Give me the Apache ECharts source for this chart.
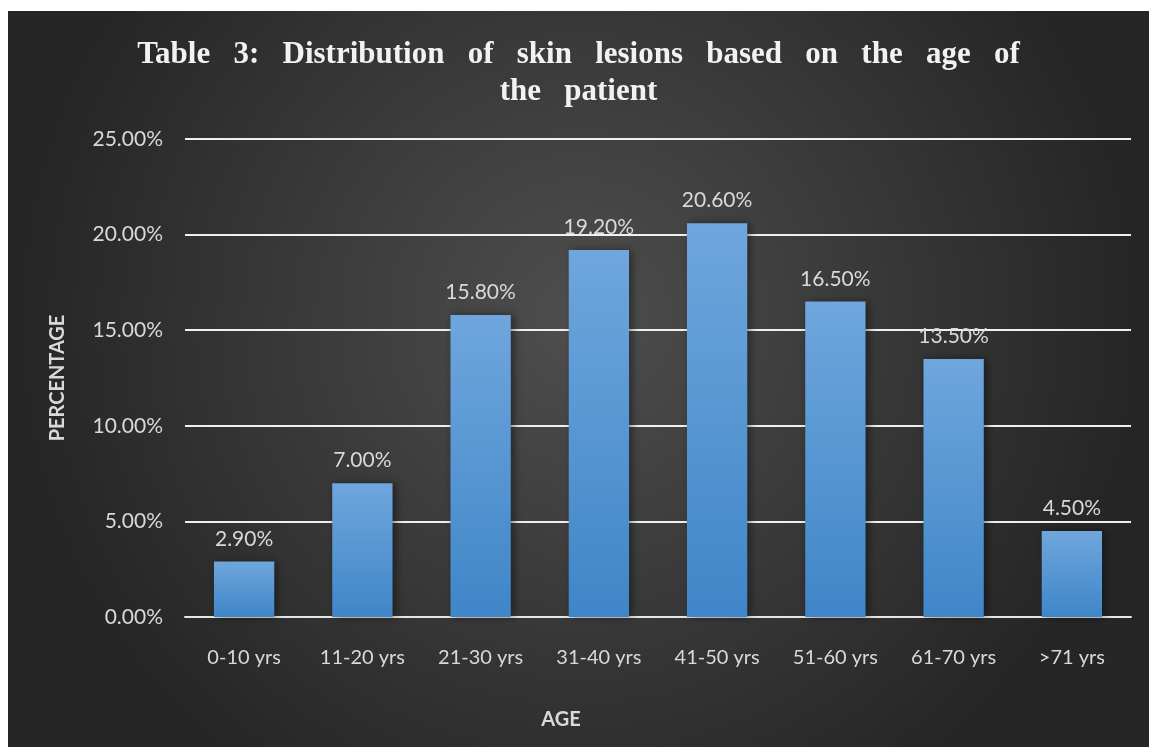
<!DOCTYPE html>
<html>
<head>
<meta charset="utf-8">
<script src="https://cdn.jsdelivr.net/npm/echarts@6/dist/echarts.min.js"></script>
<style>
  html, body { margin: 0; padding: 0; background: #ffffff; width: 1149px; height: 747px; overflow: hidden; }
  #chart { position: absolute; left: 8px; top: 11px; width: 1141px; height: 736px; }
</style>
</head>
<body>
<div id="chart"></div>
<script>
// Age groups and share of skin lesions (%)
const ageGroups = ['0-10 yrs', '11-20 yrs', '21-30 yrs', '31-40 yrs', '41-50 yrs', '51-60 yrs', '61-70 yrs', '>71 yrs'];
const lesionShare = [2.9, 7.0, 15.8, 19.2, 20.6, 16.5, 13.5, 4.5];
const yAxisRange = { min: 0, max: 25, step: 5 };

const titleLines = [
  'Table   3:   Distribution   of   skin   lesions   based   on   the   age   of',
  'the   patient'
];

const labelColor = '#d9d9d9';
const bodyFont = 'Lato, "Open Sans", sans-serif';

const chart = echarts.init(document.getElementById('chart'), null, { renderer: 'canvas' });

chart.setOption({
  backgroundColor: new echarts.graphic.RadialGradient(0.5, 0.42, 0.75, [
    { offset: 0, color: '#4e4e4e' },
    { offset: 1, color: '#262626' }
  ]),
  title: {
    text: titleLines.join('\n'),
    left: 'center',
    top: 20,
    textStyle: {
      fontFamily: '"Liberation Serif", "DejaVu Serif", serif',
      fontWeight: 'bold',
      fontSize: 31,
      lineHeight: 37,
      color: '#f2f2f2'
    }
  },
  grid: { left: 177, right: 18, top: 128, bottom: 130 },
  xAxis: {
    type: 'category',
    data: ageGroups,
    name: 'AGE',
    nameLocation: 'middle',
    nameGap: 93,
    nameTextStyle: {
      color: labelColor, fontFamily: bodyFont, fontWeight: 'bold', fontSize: 20,
      padding: [0, 194, 0, 0]
    },
    axisLine: { show: true, lineStyle: { color: '#e6e6e6', width: 2 } },
    axisTick: { show: false },
    axisLabel: { color: labelColor, fontFamily: bodyFont, fontSize: 20, margin: 31 }
  },
  yAxis: {
    type: 'value',
    min: yAxisRange.min,
    max: yAxisRange.max,
    interval: yAxisRange.step,
    name: 'PERCENTAGE',
    nameLocation: 'middle',
    nameRotate: 90,
    nameGap: 117,
    nameTextStyle: { color: labelColor, fontFamily: bodyFont, fontWeight: 'bold', fontSize: 20 },
    axisLine: { show: false },
    axisTick: { show: false },
    axisLabel: {
      color: labelColor, fontFamily: bodyFont, fontSize: 21, margin: 22,
      formatter: v => v.toFixed(2) + '%'
    },
    splitLine: { lineStyle: { color: '#f0f0f0', width: 2 } }
  },
  series: [{
    type: 'bar',
    data: lesionShare,
    barWidth: '51%',
    itemStyle: {
      color: new echarts.graphic.LinearGradient(0, 0, 0, 1, [
        { offset: 0, color: '#6fa6dd' },
        { offset: 1, color: '#3f86c8' }
      ]),
      shadowColor: 'rgba(0,0,0,0.45)',
      shadowBlur: 8,
      shadowOffsetX: 3,
      shadowOffsetY: 0
    },
    label: {
      show: true,
      position: 'top',
      distance: 12,
      color: labelColor,
      fontFamily: bodyFont,
      fontSize: 21,
      formatter: p => p.value.toFixed(2) + '%'
    }
  }]
});
</script>
</body>
</html>
